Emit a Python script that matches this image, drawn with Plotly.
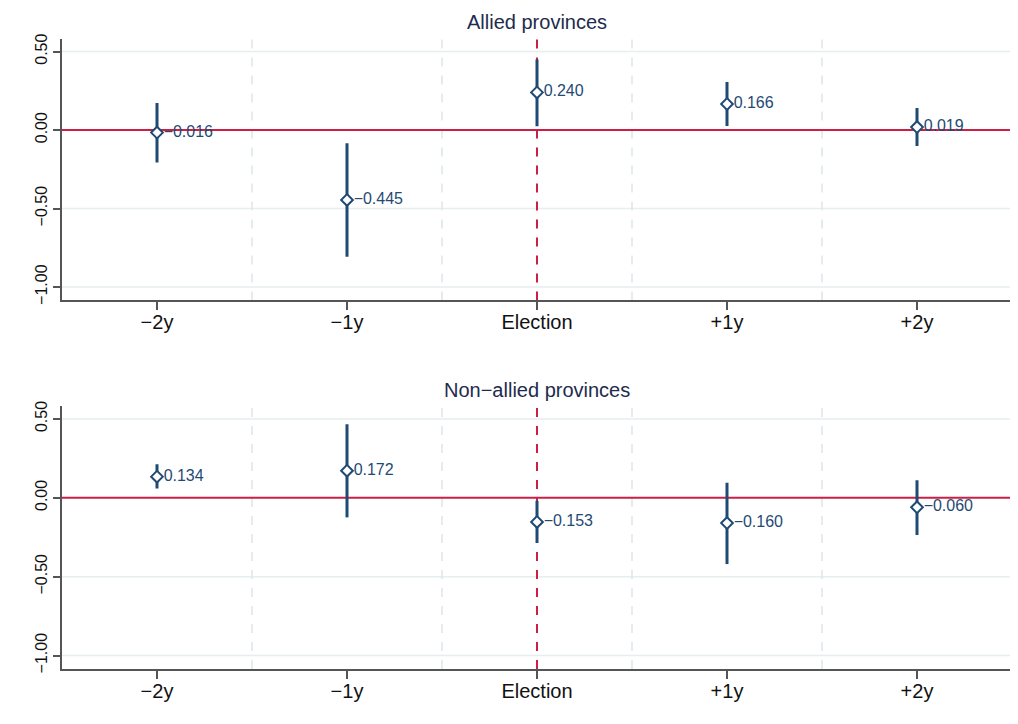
import plotly.graph_objects as go

categories = ["−2y", "−1y", "Election", "+1y", "+2y"]

allied_est = [-0.016, -0.445, 0.240, 0.166, 0.019]
allied_lo = [-0.207, -0.806, 0.025, 0.026, -0.101]
allied_hi = [0.173, -0.084, 0.450, 0.306, 0.141]

nonallied_est = [0.134, 0.172, -0.153, -0.160, -0.060]
nonallied_lo = [0.059, -0.124, -0.286, -0.420, -0.236]
nonallied_hi = [0.213, 0.466, -0.018, 0.096, 0.112]

panel_titles = ["Allied provinces", "Non−allied provinces"]
ytick_vals = [-1.0, -0.5, 0.0, 0.5]
ytick_text = ["−1.00", "−0.50", "0.00", "0.50"]

NAVY = "#1f4a74"
RED = "#cc1f45"
GRID = "#e6eef0"
VGRID = "#dbe6ea"
AXIS = "#555555"
TITLE = "#1e2b4d"
FONT = "Liberation Sans, Arial, Helvetica, sans-serif"

xpos = list(range(len(categories)))


def fmt(v):
    return f"{v:.3f}".replace("-", "−")


fig = go.Figure()

panels = [(allied_est, allied_lo, allied_hi), (nonallied_est, nonallied_lo, nonallied_hi)]
for i, (est, lo, hi) in enumerate(panels):
    xa = "x" if i == 0 else "x2"
    ya = "y" if i == 0 else "y2"
    fig.add_trace(go.Scatter(
        x=xpos, y=est, xaxis=xa, yaxis=ya,
        mode="markers+text",
        text=[fmt(v) for v in est],
        textposition="middle right",
        textfont=dict(family=FONT, size=16, color=NAVY),
        marker=dict(symbol="diamond", size=9, color="white",
                    line=dict(color=NAVY, width=2)),
        error_y=dict(type="data", symmetric=False,
                     array=[h - e for h, e in zip(hi, est)],
                     arrayminus=[e - l for e, l in zip(est, lo)],
                     color=NAVY, thickness=3, width=0),
        showlegend=False, cliponaxis=False,
    ))

shapes = []
for xr, yr in [("x", "y"), ("x2", "y2")]:
    for g in [-1.0, -0.5, 0.5]:
        shapes.append(dict(type="line", xref=f"{xr} domain", yref=yr, x0=0, x1=1, y0=g, y1=g,
                           line=dict(color=GRID, width=1.5), layer="below"))
    for v in [0.5, 1.5, 2.5, 3.5]:
        shapes.append(dict(type="line", xref=xr, yref=f"{yr} domain", x0=v, x1=v, y0=0, y1=1,
                           line=dict(color=VGRID, width=1.5, dash="dash"), layer="below"))
    shapes.append(dict(type="line", xref=f"{xr} domain", yref=yr, x0=0, x1=1, y0=0, y1=0,
                       line=dict(color=RED, width=2), layer="below"))
    shapes.append(dict(type="line", xref=xr, yref=f"{yr} domain", x0=2, x1=2, y0=0, y1=1,
                       line=dict(color=RED, width=2, dash="dash"), layer="below"))

annotations = [
    dict(text=panel_titles[0], xref="paper", yref="paper", x=0.5, y=1.027,
         xanchor="center", yanchor="middle", showarrow=False,
         font=dict(family=FONT, size=20, color=TITLE)),
    dict(text=panel_titles[1], xref="paper", yref="paper", x=0.5, y=0.443,
         xanchor="center", yanchor="middle", showarrow=False,
         font=dict(family=FONT, size=20, color=TITLE)),
]

xaxis_common = dict(range=[-0.5, 4.5], tickvals=xpos, ticktext=categories,
                    showgrid=False, zeroline=False, showline=True, linecolor=AXIS, linewidth=1.5,
                    ticks="outside", ticklen=8, tickcolor=AXIS, tickwidth=1.5, automargin=False,
                    ticklabelstandoff=-5,
                    tickfont=dict(family=FONT, size=20, color="#111111"))
yaxis_common = dict(range=[-1.085, 0.58], tickvals=ytick_vals, ticktext=ytick_text,
                    tickangle=-90, showgrid=False,
                    zeroline=False, showline=True, linecolor=AXIS, linewidth=1.5,
                    ticks="outside", ticklen=7, tickcolor=AXIS, tickwidth=1.5, automargin=False,
                    tickfont=dict(family=FONT, size=16, color="#111111"))

fig.update_layout(
    width=1010, height=716,
    margin=dict(l=54, r=6, t=31, b=55),
    paper_bgcolor="white", plot_bgcolor="white",
    xaxis=dict(domain=[0, 1], anchor="y", **xaxis_common),
    yaxis=dict(domain=[0.585, 1.0], anchor="x", **yaxis_common),
    xaxis2=dict(domain=[0, 1], anchor="y2", **xaxis_common),
    yaxis2=dict(domain=[0.0, 0.417], anchor="x2", **yaxis_common),
    shapes=shapes,
    annotations=annotations,
    font=dict(family=FONT),
)

fig.write_html("out.html")
